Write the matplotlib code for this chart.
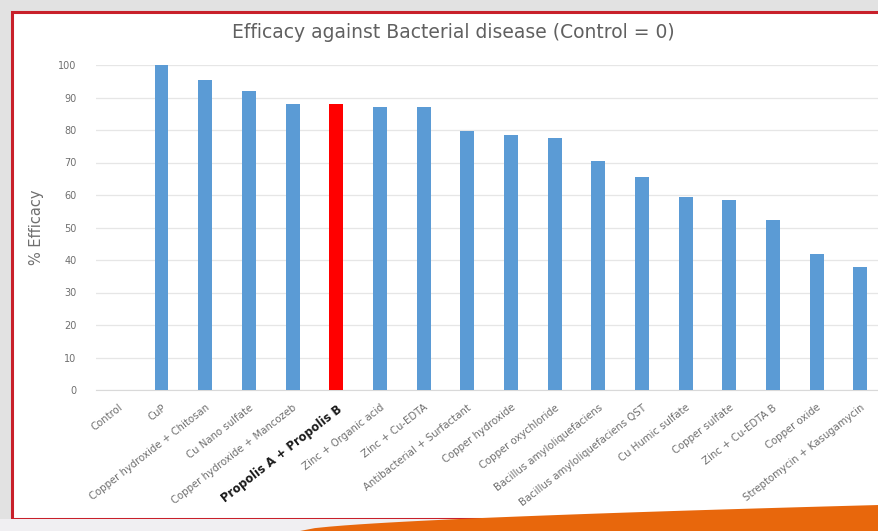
import matplotlib
matplotlib.use("Agg")
import matplotlib.pyplot as plt
from matplotlib.patches import Rectangle, Polygon
import numpy as np

categories = [
    "Control", "CuP", "Copper hydroxide + Chitosan", "Cu Nano sulfate",
    "Copper hydroxide + Mancozeb", "Propolis A + Propolis B",
    "Zinc + Organic acid", "Zinc + Cu-EDTA", "Antibacterial + Surfactant",
    "Copper hydroxide", "Copper oxychloride", "Bacillus amyloliquefaciens",
    "Bacillus amyloliquefaciens QST", "Cu Humic sulfate", "Copper sulfate",
    "Zinc + Cu-EDTA B", "Copper oxide", "Streptomycin + Kasugamycin",
]
efficacy = [0, 100, 95.4, 92, 88, 88, 87, 87, 79.7, 78.5, 77.5, 70.5,
            65.5, 59.4, 58.5, 52.3, 41.8, 37.8]
highlight = "Propolis A + Propolis B"
yticks = [0, 10, 20, 30, 40, 50, 60, 70, 80, 90, 100]

W, H = 879, 531
fig = plt.figure(figsize=(W / 100, H / 100), dpi=100)
fig.patch.set_facecolor("#e2e2e2")

# white panel with red border
fig.patches.append(Rectangle((12 / W, 1 - 519 / H), 1.0, (519 - 12) / H,
                             transform=fig.transFigure, facecolor="white",
                             edgecolor="#c8202a", linewidth=2.2, zorder=-3))
# lighter bottom strip
fig.patches.append(Rectangle((0, 0), 1, (H - 519) / H, transform=fig.transFigure,
                             facecolor="#f0eff2", edgecolor="none", zorder=-2))
# orange swoosh
xs = np.linspace(300, 879, 40)
top = 531 - 26 * ((xs - 300) / 579) ** 0.6
pts = [(x / W, 1 - y / H) for x, y in zip(xs, top)] + [(1, 0), (300 / W, 0)]
fig.patches.append(Polygon(pts, closed=True, transform=fig.transFigure,
                           facecolor="#e8670c", edgecolor="none", zorder=10))

left = 96 / W
bottom = 1 - 390 / H
ax = fig.add_axes([left, bottom, 1 - left, (390 - 65) / H])
ax.set_zorder(2)
ax.set_facecolor("none")
x = np.arange(len(categories))
colors = ["#ff0000" if c == highlight else "#5b9bd5" for c in categories]
ax.bar(x, efficacy, width=0.32, color=colors, zorder=3)
ax.set_xlim(-0.5, 17.43)
ax.set_ylim(0, 100)
ax.set_yticks(yticks)
ax.set_yticklabels([str(t) for t in yticks], fontsize=7, color="#6f6f6f")
ax.tick_params(axis="y", length=0, pad=14)
ax.tick_params(axis="x", length=0, pad=9)
ax.set_xticks(x)
ax.set_xticklabels(categories, rotation=38, ha="right", rotation_mode="anchor",
                   fontsize=7.3, color="#6f6f6f")
for lab in ax.get_xticklabels():
    if lab.get_text() == highlight:
        lab.set_color("#1a1a1a")
        lab.set_fontweight("bold")
        lab.set_fontsize(8.3)
ax.yaxis.grid(True, color="#e6e6e6", linewidth=0.9, zorder=0)
ax.set_axisbelow(True)
for s in ["top", "right", "left"]:
    ax.spines[s].set_visible(False)
ax.spines["bottom"].set_color("#d9d9d9")
ax.set_ylabel("% Efficacy", fontsize=10.5, color="#6f6f6f", labelpad=10)

fig.text(453 / W, 1 - 33 / H, "Efficacy against Bacterial disease (Control = 0)",
         ha="center", va="center", fontsize=13.5, color="#606060")

fig.savefig("out.png", dpi=100, facecolor=fig.get_facecolor())
